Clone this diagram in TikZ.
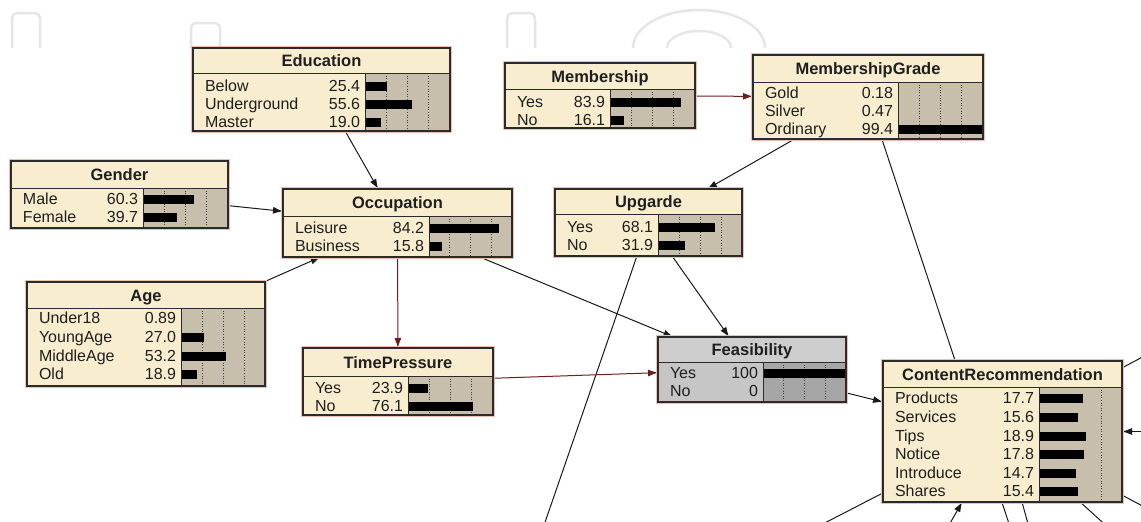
\documentclass[tikz,border=0pt]{standalone}
\usepackage{fontspec}
\setmainfont{Liberation Sans}
\usetikzlibrary{arrows.meta,fit,calc}
\pgfdeclarelayer{background}
\pgfsetlayers{background,main}
\definecolor{bnbody}{HTML}{F8EECF}
\definecolor{bntitlef}{HTML}{F8EECF}
\definecolor{bnbarf}{HTML}{C7BEAB}
\definecolor{bnline}{HTML}{2B2B2B}
\definecolor{bnhalo}{HTML}{EBC0B0}
\definecolor{linkcol}{HTML}{1A1A1A}
\definecolor{linkred}{HTML}{6E1E1E}
\definecolor{wmark}{HTML}{E6E6E6}
\definecolor{feasbody}{HTML}{C6C6C6}
\definecolor{feastitle}{HTML}{CDCDCD}
\definecolor{feasbar}{HTML}{A6A6A6}
\definecolor{creambody}{HTML}{F8EECF}
\definecolor{creambar}{HTML}{C7BEAB}
\tikzset{
  bnlabel/.style={inner sep=0pt, outer sep=0pt, text=black!88, font=\fontsize{16}{18}\selectfont},
  bntitle/.style={inner sep=0pt, outer sep=0pt, text=black!88, font=\fontsize{16.5}{19}\selectfont\bfseries},
  bndot/.style={draw=black!75, line width=0.8pt, dash pattern=on 1pt off 1.6pt},
  link/.style={draw=linkcol, line width=1pt, -{Latex[length=10pt,width=7pt]}},
  linkr/.style={link, draw=linkred},
  plainlink/.style={draw=linkcol, line width=1pt},
  wm/.style={draw=wmark, line width=2.5pt},
}
\def\bndots{0.25,0.5,0.75}
% #1 name, #2 left, #3 top, #4 right, #5 divider, #6 bottom, #7 bar start, #8 title, #9 rows
\newcommand\bnbox[9]{%
  \draw[bnhalo, line width=0.9pt] (#2-1.6,#3-1.6) rectangle (#4+1.6,#6+1.6);
  \node[fit={(#2,#3) (#4,#6)}, inner sep=0pt, outer sep=0pt, fill=bnbody, draw=bnline, line width=1pt] (#1) {};
  \fill[bntitlef] (#2,#3) rectangle (#4,#5);
  \fill[bnbarf] (#7,#5) rectangle (#4,#6);
  \foreach \f in \bndots {\draw[bndot] ({#7+\f*(#4-#7)},#5) -- ({#7+\f*(#4-#7)},#6);}
  \foreach \lab/\val/\len/\yy [count=\i] in {#9} {
    \node[bnlabel, anchor=base west] (#1-l\i) at ({#2+12},{\yy+5.6}) {\lab};
    \node[bnlabel, anchor=base east] (#1-v\i) at ({#7-5},{\yy+5.6}) {\val};
    \fill[black] (#7,{\yy-4.5}) rectangle ({#7+\len},{\yy+4.5});
  }
  \draw[bnline, line width=0.9pt] (#2,#5) -- (#4,#5) (#7,#5) -- (#7,#6);
  \draw[bnline, line width=1.1pt] (#2,#3) rectangle (#4,#6);
  \node[bntitle, anchor=base] (#1-t) at ({(#2+#4)/2},{(#3+#5)/2+6}) {#8};
}
\begin{document}
\begin{tikzpicture}[x=1pt,y=-1pt]
\useasboundingbox (0,0) rectangle (1141,522);

\bnbox{edu}{193}{48}{450}{73}{131}{365}{Education}{Below/25.4/21.6/86, Underground/55.6/47.3/104, Master/19.0/16.2/122}
\bnbox{mem}{505}{63}{695}{89}{128}{610}{Membership}{Yes/83.9/71.3/102, No/16.1/13.7/120}
\bnbox{mg}{753}{55}{983}{82}{139}{898}{MembershipGrade}{Gold/0.18/0.15/93, Silver/0.47/0.4/111, Ordinary/99.4/85/129}
\bnbox{gen}{11}{161}{228}{188}{228}{143}{Gender}{Male/60.3/51.3/199, Female/39.7/33.7/217}
\bnbox{occ}{283}{189}{512}{216}{257}{429}{Occupation}{Leisure/84.2/70/228, Business/15.8/13.1/246}
\bnbox{upg}{555}{189}{742}{214}{256}{658}{Upgarde}{Yes/68.1/57.2/227, No/31.9/26.8/245}
\bnbox{age}{27}{282}{265}{308}{386}{181}{Age}{Under18/0.89/0.75/318, YoungAge/27.0/22.7/337, MiddleAge/53.2/44.7/356, Old/18.9/15.9/374}
\bnbox{tp}{303}{348}{493}{376}{415}{408}{TimePressure}{Yes/23.9/20.3/388, No/76.1/64.7/406}
\colorlet{bnbody}{feasbody}\colorlet{bntitlef}{feastitle}\colorlet{bnbarf}{feasbar}
\bnbox{feas}{658}{337}{846}{362}{402}{763}{Feasibility}{Yes/100/83/373, No/0/0/391}
\colorlet{bnbody}{creambody}\colorlet{bntitlef}{creambody}\colorlet{bnbarf}{creambar}
\def\bndots{0.75}
\bnbox{cr}{883}{361}{1122}{387}{502}{1039}{ContentRecommendation}{Products/17.7/44/398, Services/15.6/39/417, Tips/18.9/47/436, Notice/17.8/44.5/454, Introduce/14.7/37/473, Shares/15.4/38.5/491}

\coordinate (offMG) at (1021,560);
\coordinate (offU) at (532,560);
\coordinate (offR) at (1180,431.5);
\coordinate (offB) at (929,560);
\coordinate (offTR) at (1180,337);
\coordinate (offBL) at (753,560);
\coordinate (offB2) at (1038,560);
\coordinate (offB3) at (1144,560);
\coordinate (offBR) at (1180,526);

\begin{pgfonlayer}{background}
  \fill[white] (0,0) rectangle (1141,522);
  \clip (0,0) rectangle (1141,522);
  \draw[wm, rounded corners=5pt] (12,48) -- (12,13) -- (40,13) -- (40,48);
  \draw[wm, rounded corners=5pt] (191,48) -- (191,23) -- (220,23) -- (220,48);
  \draw[wm, rounded corners=5pt] (507,48) -- (507,13) -- (535,13) -- (535,48);
  \draw[wm] (633,48) arc[start angle=180, end angle=360, x radius=66, y radius=38];
  \draw[wm] (667,48) arc[start angle=180, end angle=360, x radius=32, y radius=17];

  \draw[linkr] (mem) -- (mg);
  \draw[link] (edu) -- (occ);
  \draw[link] (gen) -- (occ);
  \draw[link] (age) -- (occ);
  \draw[link] (mg) -- (upg);
  \draw[link] (mg) -- (offMG);
  \draw[linkr] (occ) -- (tp);
  \draw[link] (occ) -- (feas);
  \draw[link] (upg) -- (feas);
  \draw[link] (upg) -- (offU);
  \draw[linkr] (tp) -- (feas);
  \draw[link] (feas) -- (cr);
  \draw[link] (offR) -- (cr);
  \draw[link] (offB) -- (cr);
  \draw[plainlink] (cr) -- (offTR);
  \draw[plainlink] (cr) -- (offBL);
  \draw[plainlink] (cr) -- (offB2);
  \draw[plainlink] (cr) -- (offB3);
  \draw[plainlink] (cr) -- (offBR);
\end{pgfonlayer}
\end{tikzpicture}
\end{document}
